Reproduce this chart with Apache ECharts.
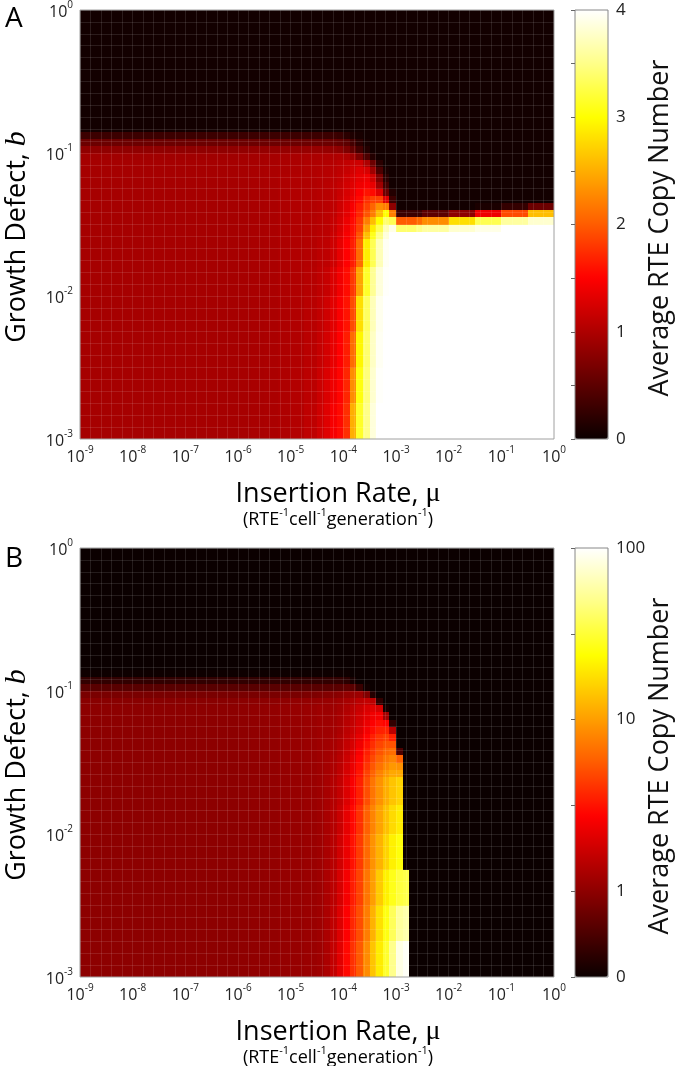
<!DOCTYPE html>
<html><head><meta charset="utf-8">
<script src="https://cdn.jsdelivr.net/npm/echarts@6/dist/echarts.min.js"></script>
<style>html,body{margin:0;padding:0;background:#fff}#c{width:677px;height:1066px}</style>
</head><body><div id="c"></div>
<script>
// Column edges (log10 of insertion rate mu) and row edges (log10 of growth defect b)
const muEdgeExp = [-9,-8,-7,-6,-5.75,-5.5,-5.25,-5,-4.75,-4.5,-4.375,-4.25,-4.125,-4,-3.875,-3.75,-3.625,-3.5,-3.375,-3.25,-3.125,-3,-2.875,-2.75,-2.625,-2.5,-2,-1.5,-1,-0.5,0];
const bEdgeExp = [-3,-2.75,-2.5,-2.25,-2,-1.8,-1.6,-1.55,-1.5,-1.45,-1.4,-1.35,-1.3,-1.25,-1.2,-1.15,-1.1,-1.05,-1,-0.95,-0.9,-0.85,-0.8,-0.5,0];
const muTickExp = [-9,-8,-7,-6,-5,-4,-3,-2,-1,0];
const bTickExp = [-3,-2,-1,0];
const colorbarTicksA = [0,1,2,3,4];
const colorbarTicksB = [0,1,10,100];

// Panel A: average RTE copy number, rows from b=1e-3 (bottom) upward
const copyA = [
[0.95,0.95,0.95,0.96,0.97,0.98,1.0,1.03,1.1,1.2,1.3,1.45,1.55,1.75,2.5,3.15,3.5,3.85,4,4,4,4,4,4,4,4,4,4,4,4],
[0.95,0.95,0.95,0.96,0.97,0.98,1.0,1.03,1.08,1.17,1.27,1.4,1.52,1.7,2.3,3.05,3.45,3.8,3.98,4,4,4,4,4,4,4,4,4,4,4],
[0.95,0.95,0.95,0.96,0.97,0.98,1.0,1.02,1.07,1.14,1.23,1.36,1.5,1.65,2.1,2.95,3.4,3.75,3.95,4,4,4,4,4,4,4,4,4,4,4],
[0.95,0.95,0.95,0.96,0.97,0.98,1.0,1.02,1.06,1.12,1.2,1.32,1.47,1.6,1.9,2.8,3.35,3.7,3.93,4,4,4,4,4,4,4,4,4,4,4],
[0.95,0.95,0.95,0.96,0.97,0.98,1.0,1.02,1.05,1.1,1.15,1.28,1.42,1.56,1.8,2.45,3.15,3.55,3.85,3.98,4,4,4,4,4,4,4,4,4,4],
[0.95,0.95,0.95,0.96,0.97,0.98,1.0,1.02,1.04,1.08,1.1,1.2,1.35,1.5,1.65,2.1,2.9,3.3,3.7,3.95,4,4,4,4,4,4,4,4,4,4],
[0.95,0.95,0.95,0.96,0.97,0.98,1.0,1.02,1.04,1.07,1.08,1.17,1.3,1.45,1.6,1.95,2.6,3.1,3.5,3.85,4,4,4,4,4,4,4,4,4,4],
[0.95,0.95,0.95,0.96,0.97,0.98,1.0,1.02,1.04,1.06,1.08,1.15,1.28,1.42,1.58,1.85,2.4,2.9,3.3,3.7,3.9,3.4,3.4,3.4,3.5,3.6,3.8,3.9,4,4],
[0.95,0.95,0.95,0.96,0.97,0.98,1.0,1.02,1.04,1.06,1.08,1.14,1.25,1.38,1.55,1.8,2.2,2.6,3.0,3.4,3.3,2.0,2.0,2.0,2.1,2.3,2.8,3.3,3.6,3.8],
[0.95,0.95,0.95,0.96,0.97,0.98,1.0,1.02,1.03,1.05,1.08,1.12,1.22,1.33,1.5,1.7,1.95,2.2,2.6,3.0,2.2,0.3,0.3,0.3,0.3,0.5,0.8,1.4,1.9,2.6],
[0.95,0.95,0.95,0.96,0.97,0.98,1.0,1.02,1.03,1.05,1.07,1.1,1.2,1.3,1.45,1.65,1.85,2.05,2.3,2.2,0.8,0.05,0.05,0.05,0.05,0.05,0.05,0.1,0.25,0.6],
[0.95,0.95,0.95,0.96,0.97,0.98,1.0,1.02,1.03,1.05,1.07,1.1,1.18,1.28,1.4,1.55,1.75,1.85,1.85,1.3,0.3,0.05,0.05,0.05,0.05,0.05,0.05,0.05,0.05,0.05],
[0.95,0.95,0.95,0.96,0.97,0.98,1.0,1.02,1.03,1.05,1.06,1.1,1.16,1.25,1.35,1.5,1.6,1.55,1.3,0.6,0.15,0.05,0.05,0.05,0.05,0.05,0.05,0.05,0.05,0.05],
[0.95,0.95,0.95,0.96,0.97,0.98,1.0,1.01,1.02,1.04,1.06,1.09,1.14,1.22,1.3,1.4,1.45,1.35,0.9,0.35,0.05,0.05,0.05,0.05,0.05,0.05,0.05,0.05,0.05,0.05],
[0.95,0.95,0.95,0.96,0.97,0.98,1.0,1.01,1.02,1.04,1.05,1.08,1.12,1.2,1.27,1.35,1.4,1.2,0.7,0.2,0.05,0.05,0.05,0.05,0.05,0.05,0.05,0.05,0.05,0.05],
[0.95,0.95,0.95,0.96,0.97,0.98,0.99,1.0,1.02,1.03,1.05,1.07,1.1,1.15,1.22,1.3,1.25,0.9,0.4,0.1,0.05,0.05,0.05,0.05,0.05,0.05,0.05,0.05,0.05,0.05],
[0.95,0.95,0.95,0.95,0.96,0.97,0.98,0.99,1.01,1.02,1.03,1.05,1.08,1.12,1.17,1.2,1.0,0.6,0.2,0.05,0.05,0.05,0.05,0.05,0.05,0.05,0.05,0.05,0.05,0.05],
[0.92,0.92,0.92,0.93,0.94,0.95,0.96,0.97,0.98,0.99,1.0,1.0,1.02,1.0,0.9,0.7,0.4,0.15,0.05,0.05,0.05,0.05,0.05,0.05,0.05,0.05,0.05,0.05,0.05,0.05],
[0.82,0.82,0.82,0.83,0.84,0.85,0.85,0.85,0.86,0.86,0.85,0.83,0.8,0.7,0.55,0.35,0.15,0.05,0.05,0.05,0.05,0.05,0.05,0.05,0.05,0.05,0.05,0.05,0.05,0.05],
[0.6,0.6,0.6,0.6,0.6,0.6,0.6,0.6,0.6,0.6,0.6,0.58,0.55,0.5,0.35,0.2,0.08,0.05,0.05,0.05,0.05,0.05,0.05,0.05,0.05,0.05,0.05,0.05,0.05,0.05],
[0.3,0.3,0.3,0.3,0.3,0.3,0.3,0.3,0.3,0.3,0.3,0.3,0.28,0.2,0.12,0.08,0.05,0.05,0.05,0.05,0.05,0.05,0.05,0.05,0.05,0.05,0.05,0.05,0.05,0.05],
[0.05,0.05,0.05,0.05,0.05,0.05,0.05,0.05,0.05,0.05,0.05,0.05,0.05,0.05,0.05,0.05,0.05,0.05,0.05,0.05,0.05,0.05,0.05,0.05,0.05,0.05,0.05,0.05,0.05,0.05],
[0.05,0.05,0.05,0.05,0.05,0.05,0.05,0.05,0.05,0.05,0.05,0.05,0.05,0.05,0.05,0.05,0.05,0.05,0.05,0.05,0.05,0.05,0.05,0.05,0.05,0.05,0.05,0.05,0.05,0.05],
[0.05,0.05,0.05,0.05,0.05,0.05,0.05,0.05,0.05,0.05,0.05,0.05,0.05,0.05,0.05,0.05,0.05,0.05,0.05,0.05,0.05,0.05,0.05,0.05,0.05,0.05,0.05,0.05,0.05,0.05]
];

// Panel B: average RTE copy number, rows from b=1e-3 (bottom) upward
const copyB = [
[1,1,1,1.02,1.03,1.05,1.07,1.09,1.12,1.16,1.3,1.6,2.1,2.9,4,5.5,8.5,14,20,30,50,85,95,0,0,0,0,0,0,0],
[1,1,1,1.02,1.03,1.05,1.07,1.09,1.12,1.16,1.3,1.55,2.0,2.7,3.7,5,7.5,12,18,26,38,55,60,0,0,0,0,0,0,0],
[1,1,1,1.02,1.03,1.05,1.07,1.09,1.12,1.16,1.3,1.5,1.9,2.5,3.4,4.6,7,10,15,21,27,33,35,0,0,0,0,0,0,0],
[1,1,1,1.02,1.03,1.05,1.07,1.09,1.12,1.16,1.28,1.45,1.8,2.3,3.1,4.3,6.3,9,12,16,21,25,0,0,0,0,0,0,0,0],
[1,1,1,1.02,1.03,1.05,1.07,1.09,1.12,1.16,1.27,1.42,1.7,2.2,2.9,4,5.8,8,10.5,13.5,17,20,0,0,0,0,0,0,0,0],
[1,1,1,1.02,1.03,1.05,1.07,1.09,1.12,1.16,1.25,1.4,1.6,2.0,2.6,3.5,5,7,9,11.5,14,16,0,0,0,0,0,0,0,0],
[1,1,1,1.02,1.03,1.05,1.07,1.09,1.12,1.16,1.24,1.35,1.55,1.9,2.4,3.2,4.5,6,7.8,9.5,11,11,0,0,0,0,0,0,0,0],
[1,1,1,1.02,1.03,1.05,1.07,1.09,1.12,1.16,1.22,1.32,1.5,1.8,2.3,3.0,4.1,5.4,6.8,8.3,9.5,9,0,0,0,0,0,0,0,0],
[1,1,1,1.02,1.03,1.05,1.07,1.09,1.12,1.16,1.21,1.3,1.45,1.72,2.15,2.8,3.7,4.8,6,7.2,8,6,0,0,0,0,0,0,0,0],
[1,1,1,1.02,1.03,1.05,1.07,1.09,1.12,1.16,1.2,1.27,1.4,1.65,2.0,2.6,3.4,4.3,5.3,6.2,6.5,0.5,0,0,0,0,0,0,0,0],
[1,1,1,1.02,1.03,1.05,1.07,1.09,1.12,1.16,1.19,1.25,1.37,1.6,1.9,2.4,3.1,3.9,4.7,5.3,5.2,0,0,0,0,0,0,0,0,0],
[1,1,1,1.02,1.03,1.05,1.07,1.09,1.12,1.16,1.18,1.23,1.34,1.55,1.8,2.2,2.8,3.5,4.1,4.5,3.5,0,0,0,0,0,0,0,0,0],
[1,1,1,1.02,1.03,1.05,1.07,1.09,1.12,1.16,1.17,1.21,1.3,1.5,1.7,2.0,2.5,3.0,3.5,3.6,1.5,0,0,0,0,0,0,0,0,0],
[1,1,1,1.02,1.03,1.05,1.07,1.09,1.12,1.16,1.16,1.2,1.28,1.45,1.6,1.9,2.3,2.7,3.0,2.8,0.3,0,0,0,0,0,0,0,0,0],
[1,1,1,1.02,1.03,1.05,1.07,1.09,1.12,1.16,1.15,1.18,1.25,1.4,1.55,1.8,2.1,2.4,2.5,1.2,0,0,0,0,0,0,0,0,0,0],
[1,1,1,1.02,1.03,1.05,1.07,1.09,1.12,1.16,1.13,1.16,1.22,1.35,1.5,1.7,1.95,2.1,1.9,0.1,0,0,0,0,0,0,0,0,0,0],
[0.97,0.97,0.97,0.98,0.99,1.0,1.02,1.04,1.06,1.08,1.1,1.12,1.17,1.25,1.35,1.5,1.6,1.5,0.3,0,0,0,0,0,0,0,0,0,0,0],
[0.85,0.85,0.85,0.85,0.85,0.85,0.85,0.85,0.88,0.9,0.92,0.95,0.98,1.05,1.1,1.15,0.9,0.2,0,0,0,0,0,0,0,0,0,0,0,0],
[0.6,0.6,0.6,0.6,0.6,0.6,0.6,0.6,0.6,0.6,0.6,0.6,0.62,0.65,0.6,0.35,0.05,0,0,0,0,0,0,0,0,0,0,0,0,0],
[0.3,0.3,0.3,0.3,0.3,0.3,0.3,0.3,0.3,0.3,0.3,0.3,0.3,0.25,0.1,0,0,0,0,0,0,0,0,0,0,0,0,0,0,0],
[0.03,0.03,0.03,0.03,0.03,0.03,0.03,0.03,0.03,0.03,0.03,0.03,0.03,0.03,0,0,0,0,0,0,0,0,0,0,0,0,0,0,0,0],
[0,0,0,0,0,0,0,0,0,0,0,0,0,0,0,0,0,0,0,0,0,0,0,0,0,0,0,0,0,0],
[0,0,0,0,0,0,0,0,0,0,0,0,0,0,0,0,0,0,0,0,0,0,0,0,0,0,0,0,0,0],
[0,0,0,0,0,0,0,0,0,0,0,0,0,0,0,0,0,0,0,0,0,0,0,0,0,0,0,0,0,0]
];

const hotColors = ['#0b0000','#5c0000','#ae0000','#ff0000','#ff5c00','#ffae00','#ffff00','#ffff88','#ffffff'];
const FONT = 'Open Sans';

// colour-scale transforms (A: linear, B: linear 0-1 then log)
const scaleA = v => v;
const scaleB = v => v <= 1 ? 0.5 * v : 0.5 + Math.log10(v);

function buildCells(rows, scale) {
  const out = [];
  for (let j = 0; j < rows.length; j++) {
    for (let i = 0; i < rows[j].length; i++) {
      out.push([Math.pow(10, muEdgeExp[i]), Math.pow(10, muEdgeExp[i + 1]),
                Math.pow(10, bEdgeExp[j]), Math.pow(10, bEdgeExp[j + 1]),
                rows[j][i], scale(rows[j][i])]);
    }
  }
  return out;
}

function renderCell(params, api) {
  const p0 = api.coord([api.value(0), api.value(2)]);
  const p1 = api.coord([api.value(1), api.value(3)]);
  const x = Math.round(p0[0]), x2 = Math.round(p1[0]);
  const y = Math.round(p1[1]), y2 = Math.round(p0[1]);
  return {type: 'rect', shape: {x: x, y: y, width: x2 - x, height: y2 - y},
          style: {fill: api.visual('color')}};
}

const powRich = {
  b: {fontSize: 16, fontFamily: FONT, color: '#222', verticalAlign: 'bottom', lineHeight: 20},
  s: {fontSize: 10, fontFamily: FONT, color: '#222', verticalAlign: 'top', lineHeight: 12}
};
const powLabel = v => '{b|10}{s|' + Math.round(Math.log10(v)) + '}';

const tops = [10, 548];
const grids = [];
const xAxes = [];
const yAxes = [];
tops.forEach((top, k) => {
  grids.push({left: 80, top: top, width: 474, height: 429, show: true, z: 10,
              backgroundColor: 'transparent', borderColor: '#a0a0a0', borderWidth: 1});
  grids.push({left: 575, top: top, width: 33, height: 429, show: true, z: 10,
              backgroundColor: 'transparent', borderColor: '#888', borderWidth: 1});
});
// per panel: main grid 2k, colorbar grid 2k+1
for (let k = 0; k < 2; k++) {
  const g = 2 * k;
  xAxes.push({gridIndex: g, type: 'log', logBase: 10, min: Math.pow(10, muTickExp[0]), max: Math.pow(10, muTickExp[muTickExp.length - 1]),
    axisLine: {show: false}, axisTick: {show: false}, splitLine: {show: false},
    axisLabel: {formatter: powLabel, rich: powRich, margin: 6}});
  yAxes.push({gridIndex: g, type: 'log', logBase: 10, min: Math.pow(10, bTickExp[0]), max: Math.pow(10, bTickExp[bTickExp.length - 1]),
    axisLine: {show: false}, axisTick: {show: false}, splitLine: {show: false},
    axisLabel: {formatter: powLabel, rich: powRich, margin: 7}});
  // faint mesh overlay (exponent space)
  xAxes.push({gridIndex: g, type: 'value', position: 'top', min: -9, max: 0, interval: 0.2, z: 5,
    axisLine: {show: false}, axisTick: {show: false}, axisLabel: {show: false},
    splitLine: {show: true, lineStyle: {color: 'rgba(255,255,255,0.11)', width: 1}}});
  yAxes.push({gridIndex: g, type: 'value', position: 'right', min: -3, max: 0, interval: 1 / 12, z: 5,
    axisLine: {show: false}, axisTick: {show: false}, axisLabel: {show: false},
    splitLine: {show: true, lineStyle: {color: 'rgba(255,255,255,0.11)', width: 1}}});
}
// colorbar axes
xAxes.push({gridIndex: 1, type: 'value', show: false, min: 0, max: 1});
xAxes.push({gridIndex: 3, type: 'value', show: false, min: 0, max: 1});
const cbAxisCommon = {type: 'value', position: 'right', z: 11,
  axisLine: {show: false}, splitLine: {show: false},
  axisTick: {show: true, inside: true, length: 4, lineStyle: {color: '#666'}}};
yAxes.push(Object.assign({}, cbAxisCommon, {gridIndex: 1,
  min: scaleA(colorbarTicksA[0]), max: scaleA(colorbarTicksA[colorbarTicksA.length - 1]), interval: 0.5,
  axisLabel: {fontSize: 17, fontFamily: FONT, color: '#222', margin: 8,
    formatter: v => { const t = colorbarTicksA.find(t => Math.abs(scaleA(t) - v) < 1e-6); return t === undefined ? '' : String(t); }}}));
yAxes.push(Object.assign({}, cbAxisCommon, {gridIndex: 3,
  min: scaleB(colorbarTicksB[0]), max: scaleB(colorbarTicksB[colorbarTicksB.length - 1]), interval: 0.5,
  axisLabel: {fontSize: 17, fontFamily: FONT, color: '#222', margin: 8,
    formatter: v => { const t = colorbarTicksB.find(t => Math.abs(scaleB(t) - v) < 1e-6); return t === undefined ? '' : String(t); }}}));

const titleRich = {
  n: {fontSize: 27, fontFamily: FONT, color: '#111'},
  i: {fontSize: 30, fontFamily: 'Liberation Serif', fontStyle: 'italic', color: '#111'},
  m: {fontSize: 28, fontFamily: 'Liberation Serif', color: '#111'}
};
const subRich = {
  n: {fontSize: 18, fontFamily: FONT, color: '#111', verticalAlign: 'bottom', lineHeight: 21},
  s: {fontSize: 11, fontFamily: FONT, color: '#111', verticalAlign: 'top', lineHeight: 12}
};
const graphics = [];
tops.forEach((top, k) => {
  const off = top - 10;
  graphics.push({type: 'text', left: 5, top: 5 + off + (k ? 2 : 0), style: {text: k ? 'B' : 'A', fontSize: 28, fontFamily: FONT, fill: '#000'}});
  graphics.push({type: 'text', x: 17, y: 237 + off, rotation: Math.PI / 2,
    style: {text: '{n|Growth Defect, }{i|b}', rich: titleRich, align: 'center', verticalAlign: 'middle'}});
  graphics.push({type: 'text', x: 338, y: 494 + off,
    style: {text: '{n|Insertion Rate, }{m|\u03bc}', rich: titleRich, align: 'center', verticalAlign: 'middle'}});
  graphics.push({type: 'text', x: 338, y: 518 + off,
    style: {text: '{n|(RTE}{s|-1}{n|cell}{s|-1}{n|generation}{s|-1}{n|)}', rich: subRich, align: 'center', verticalAlign: 'middle'}});
  graphics.push({type: 'text', x: 660, y: 228 + off, rotation: Math.PI / 2,
    style: {text: 'Average RTE Copy Number', fontSize: 27, fontFamily: FONT, fill: '#111', align: 'center', verticalAlign: 'middle'}});
});

const chart = echarts.init(document.getElementById('c'), null, {renderer: 'canvas'});
chart.setOption({
  animation: false,
  backgroundColor: '#ffffff',
  grid: grids,
  xAxis: xAxes,
  yAxis: yAxes,
  visualMap: [
    {type: 'continuous', seriesIndex: 0, dimension: 5, min: scaleA(colorbarTicksA[0]), max: scaleA(colorbarTicksA[colorbarTicksA.length - 1]),
     inRange: {color: hotColors}, left: 575, top: 10, itemWidth: 33, itemHeight: 429, padding: 0,
     calculable: false, text: null, hoverLink: false},
    {type: 'continuous', seriesIndex: 1, dimension: 5, min: scaleB(colorbarTicksB[0]), max: scaleB(colorbarTicksB[colorbarTicksB.length - 1]),
     inRange: {color: hotColors}, left: 575, top: 548, itemWidth: 33, itemHeight: 429, padding: 0,
     calculable: false, text: null, hoverLink: false}
  ],
  series: [
    {type: 'custom', name: 'A', xAxisIndex: 0, yAxisIndex: 0, renderItem: renderCell,
     encode: {x: [0, 1], y: [2, 3]}, data: buildCells(copyA, scaleA), silent: true},
    {type: 'custom', name: 'B', xAxisIndex: 2, yAxisIndex: 2, renderItem: renderCell,
     encode: {x: [0, 1], y: [2, 3]}, data: buildCells(copyB, scaleB), silent: true}
  ],
  graphic: graphics
});
</script></body></html>
